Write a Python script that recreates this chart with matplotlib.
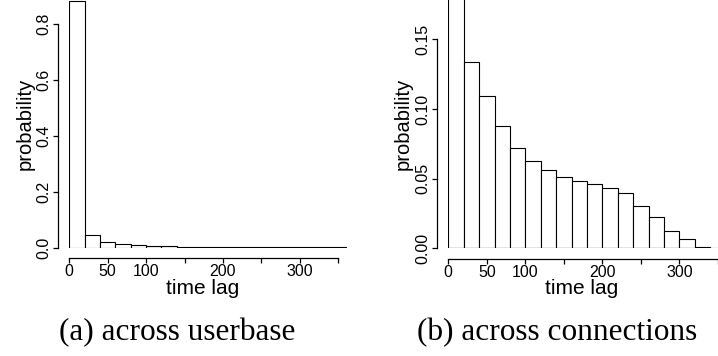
import matplotlib
matplotlib.use("Agg")
import matplotlib.pyplot as plt

# -----------------------------------------------------------------

# bin edges of the histograms (width 20)
bin_width = 20
edges_userbase = list(range(0, 360, bin_width))
edges_connections = list(range(0, 340, bin_width))

# probabilities
prob_userbase = [0.882, 0.045, 0.020, 0.012, 0.008, 0.005, 0.004, 0.003, 0.002,
                 0.0015, 0.001, 0.001, 0.0008, 0.0006, 0.0005, 0.0004, 0.0003, 0.0002]
prob_connections = [0.19, 0.134, 0.109, 0.088, 0.072, 0.063, 0.0565, 0.051, 0.048,
                    0.046, 0.0436, 0.0395, 0.0306, 0.0223, 0.0127, 0.0065, 0.0012]

xticks = [0, 50, 100, 150, 200, 250, 300, 350]
xticklabels = ["0", "50", "100", "", "200", "", "300", ""]
yticks_userbase = [0.0, 0.2, 0.4, 0.6, 0.8]
yticks_connections = [0.00, 0.05, 0.10, 0.15]

captions = ["(a) across userbase", "(b) across connections"]

# -----------------------------------------------------------------

W, H = 718, 356
fig = plt.figure(figsize=(W / 100, H / 100), dpi=100)

sans = "Liberation Sans"
serif = "Liberation Serif"


def px_axes(x0, y0, xscale, yscale, xmax, ymax):
    # x0, y0: pixel position of data origin (y from top), scales in px/unit
    left = x0 / W
    bottom = (H - y0) / H
    ax = fig.add_axes([left, bottom, xmax * xscale / W, ymax * yscale / H])
    ax.set_xlim(0, xmax)
    ax.set_ylim(0, ymax)
    return ax


def style(ax, yticks, ylabels, ybound):
    ax.patch.set_alpha(0)
    for s in ["top", "right"]:
        ax.spines[s].set_visible(False)
    ax.spines["left"].set_position(("outward", 7.8))
    ax.spines["bottom"].set_position(("outward", 7.4))
    ax.spines["left"].set_bounds(0, ybound)
    ax.spines["bottom"].set_bounds(0, 350)
    for s in ["left", "bottom"]:
        ax.spines[s].set_linewidth(0.9)
        ax.spines[s].set_clip_on(False)
    ax.set_xticks(xticks)
    ax.set_xticklabels(xticklabels, fontsize=11.5, fontfamily=sans)
    ax.set_yticks(yticks)
    ax.set_yticklabels(ylabels, fontsize=11.5, fontfamily=sans,
                       rotation=90, va="center")
    ax.tick_params(length=3.6, width=0.9, direction="out", pad=1.8)
    ax.tick_params(axis="x", pad=1.2)


# (a) across userbase
ax1 = px_axes(69.3, 247.5, 0.768, 279.0, 370, 247.5 / 279.0)
ax1.bar(edges_userbase, prob_userbase, width=bin_width, align="edge",
        facecolor="white", edgecolor="black", linewidth=0.8)
style(ax1, yticks_userbase, ["0.0", "0.2", "0.4", "0.6", "0.8"], 0.8)

# (b) across connections
ax2 = px_axes(448.3, 248.3, 0.789, 1393.0, (W - 448.3) / 0.789, 248.3 / 1393.0)
ax2.bar(edges_connections, prob_connections, width=bin_width, align="edge",
        facecolor="white", edgecolor="black", linewidth=0.8)
ax2.plot([0, 400], [0, 0], color="black", linewidth=0.8, clip_on=True)
style(ax2, yticks_connections, ["0.00", "0.05", "0.10", "0.15"], 0.15)

# axis labels and captions, placed in pixels
for xl, yl, xc in [(202.5, 25, 177), (582, 403, 557)]:
    fig.text(xl / W, 1 - 294 / H, "time lag", ha="center", va="baseline",
             fontsize=15, fontfamily=sans)
    fig.text(yl / W, 1 - 124 / H, "probability", ha="center", va="center",
             rotation=90, fontsize=14.5, fontfamily=sans)

fig.text(177 / W, 1 - 340 / H, captions[0], ha="center", va="baseline",
         fontsize=22.5, fontfamily=serif)
fig.text(557 / W, 1 - 340 / H, captions[1], ha="center", va="baseline",
         fontsize=22.5, fontfamily=serif)

fig.savefig("out.png", dpi=100, facecolor="white")
